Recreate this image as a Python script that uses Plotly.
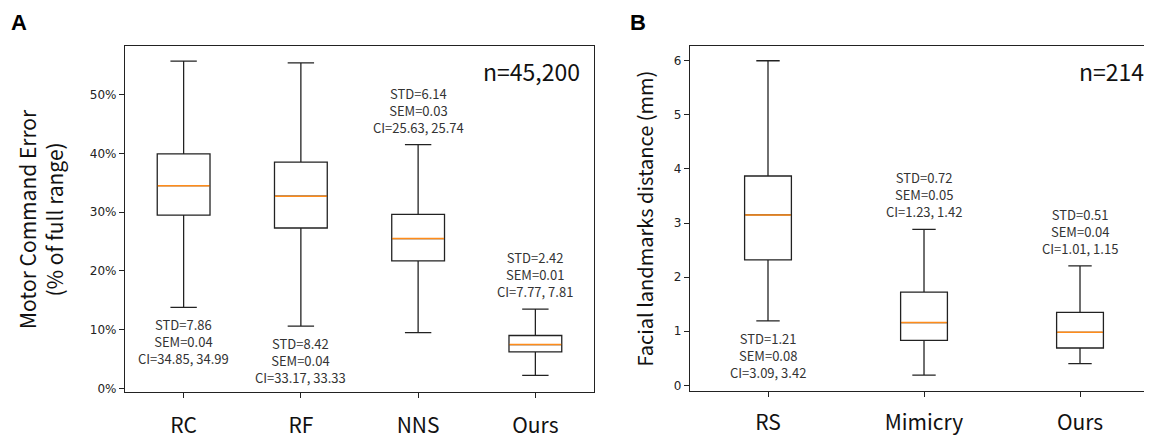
import plotly.graph_objects as go

# page offset (body margin) compensation
OFF = 8
W, H = 1152 - OFF, 439 - OFF


def PX(x):
    return (x - OFF) / W


def PY(y):
    return 1 - (y - OFF) / H


# ---------------- Data ----------------
a_cats = ["RC", "RF", "NNS", "Ours"]
a_low = [13.8, 10.6, 9.5, 2.2]
a_q1 = [29.5, 27.3, 21.7, 6.2]
a_med = [34.5, 32.7, 25.5, 7.45]
a_q3 = [39.9, 38.5, 29.6, 9.0]
a_high = [55.7, 55.4, 41.5, 13.5]
a_stats = [
    ("7.86", "0.04", "34.85, 34.99"),
    ("8.42", "0.04", "33.17, 33.33"),
    ("6.14", "0.03", "25.63, 25.74"),
    ("2.42", "0.01", "7.77, 7.81"),
]
a_label_side = ["below", "below", "above", "above"]
a_n = "n=45,200"
a_yticks = [0, 10, 20, 30, 40, 50]

b_cats = ["RS", "Mimicry", "Ours"]
b_low = [1.19, 0.19, 0.40]
b_q1 = [2.32, 0.83, 0.69]
b_med = [3.15, 1.16, 0.98]
b_q3 = [3.87, 1.725, 1.35]
b_high = [6.0, 2.885, 2.21]
b_stats = [
    ("1.21", "0.08", "3.09, 3.42"),
    ("0.72", "0.05", "1.23, 1.42"),
    ("0.51", "0.04", "1.01, 1.15"),
]
b_label_side = ["below", "above", "above"]
b_n = "n=214"
b_yticks = [0, 1, 2, 3, 4, 5, 6]

# ---------------- Style ----------------
BOX_COL = "#222222"
MED_COL = "#ff8c1a"
AX_COL = "#222222"
TXT_COL = "#333333"
CJK = "Noto Sans CJK SC"
TICKF = "DejaVu Sans"

fig = go.Figure()


def add_panel(cats, low, q1, med, q3, high, xa, ya, width):
    pos = list(range(1, len(cats) + 1))
    fig.add_trace(go.Box(
        x=pos, q1=q1, median=med, q3=q3, lowerfence=low, upperfence=high,
        width=width, whiskerwidth=0.5, boxpoints=False,
        line=dict(color=BOX_COL, width=1.3), fillcolor="rgba(255,255,255,0)",
        xaxis=xa, yaxis=ya, showlegend=False, hoverinfo="skip",
    ))
    mx, my = [], []
    for p, m in zip(pos, med):
        mx += [p - width / 2 + 0.004, p + width / 2 - 0.004, None]
        my += [m, m, None]
    fig.add_trace(go.Scatter(
        x=mx, y=my, mode="lines", line=dict(color=MED_COL, width=1.5),
        xaxis=xa, yaxis=ya, showlegend=False, hoverinfo="skip",
    ))
    return pos


a_pos = add_panel(a_cats, a_low, a_q1, a_med, a_q3, a_high, "x", "y", 0.45)
b_pos = add_panel(b_cats, b_low, b_q1, b_med, b_q3, b_high, "x2", "y2", 0.30)

ann = []


def stat_annots(pos, stats, side, low, high, xref, yref, shift):
    for p, (s, e, c), sd, lo, hi in zip(pos, stats, side, low, high):
        txt = f"STD={s}<br>SEM={e}<br>CI={c}"
        if sd == "below":
            ann.append(dict(x=p, y=lo, xref=xref, yref=yref, text=txt, showarrow=False,
                            yanchor="top", xanchor="center", yshift=-shift,
                            font=dict(family=CJK, size=13, color=TXT_COL)))
        else:
            ann.append(dict(x=p, y=hi, xref=xref, yref=yref, text=txt, showarrow=False,
                            yanchor="bottom", xanchor="center", yshift=shift,
                            font=dict(family=CJK, size=13, color=TXT_COL)))


stat_annots(a_pos, a_stats, a_label_side, a_low, a_high, "x", "y", 6)
stat_annots(b_pos, b_stats, b_label_side, b_low, b_high, "x2", "y2", 6)

# n labels
ann.append(dict(x=1, y=1, xref="x domain", yref="y domain", text=a_n, showarrow=False,
                xanchor="right", yanchor="top", xshift=-12, yshift=-6,
                font=dict(family=CJK, size=23, color="#111111")))
ann.append(dict(x=1, y=1, xref="x2 domain", yref="y2 domain", text=b_n, showarrow=False,
                xanchor="right", yanchor="top", xshift=-6, yshift=-6,
                font=dict(family=CJK, size=23, color="#111111")))

# panel letters
ann.append(dict(x=PX(9), y=PY(8), xref="paper", yref="paper", text="<b>A</b>",
                showarrow=False, xanchor="left", yanchor="top",
                font=dict(family="Liberation Sans", size=22, color="#000000")))
ann.append(dict(x=PX(628), y=PY(8), xref="paper", yref="paper", text="<b>B</b>",
                showarrow=False, xanchor="left", yanchor="top",
                font=dict(family="Liberation Sans", size=22, color="#000000")))

# y-axis titles
ann.append(dict(x=PX(40), y=0.5 * (PY(47) + PY(397)), xref="paper", yref="paper",
                text="Motor Command Error<br>(% of full range)", showarrow=False, textangle=-90,
                xanchor="center", yanchor="middle",
                font=dict(family=CJK, size=21, color="#111111")))
ann.append(dict(x=PX(645), y=0.5 * (PY(47) + PY(396)), xref="paper", yref="paper",
                text="Facial landmarks distance (mm)", showarrow=False, textangle=-90,
                xanchor="center", yanchor="middle",
                font=dict(family=CJK, size=20, color="#111111")))

axis_common = dict(showgrid=False, zeroline=False, showline=True, linecolor=AX_COL,
                   linewidth=1.2, ticks="outside", ticklen=5, tickcolor=AX_COL, tickwidth=1.2)

fig.update_layout(
    width=W, height=H, margin=dict(l=0, r=0, t=0, b=0),
    paper_bgcolor="white", plot_bgcolor="white", boxmode="overlay",
    annotations=ann,
    xaxis=dict(domain=[PX(125), PX(594)], range=[0.5, 4.5], tickvals=a_pos, ticktext=a_cats,
               mirror=True, tickfont=dict(family=CJK, size=21, color="#111111"),
               ticklabelstandoff=10, **axis_common),
    yaxis=dict(domain=[PY(397), PY(47)], range=[-0.55, 58.2], tickvals=a_yticks,
               ticktext=[f"{v}%" for v in a_yticks], mirror=True, anchor="x",
               tickfont=dict(family=TICKF, size=12, color="#222222"), **axis_common),
    xaxis2=dict(domain=[PX(690), 1.0], range=[0.5, 3.5 - 6 / 155.7], tickvals=b_pos, ticktext=b_cats,
                mirror=True, anchor="y2", tickfont=dict(family=CJK, size=21, color="#111111"),
                ticklabelstandoff=8, **axis_common),
    yaxis2=dict(domain=[PY(396), PY(46.7)], range=[-0.097, 6.27], tickvals=b_yticks,
                mirror=False, anchor="x2",
                tickfont=dict(family=TICKF, size=12, color="#222222"), **axis_common),
)

fig.write_html("out.html")
